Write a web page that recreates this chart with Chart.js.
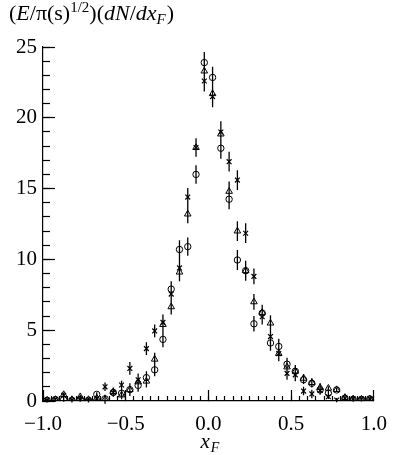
<!DOCTYPE html>
<html>
<head>
<meta charset="utf-8">
<script src="https://cdn.jsdelivr.net/npm/chart.js@4.4.0/dist/chart.umd.min.js"></script>
<style>
  html, body { margin: 0; padding: 0; background: #fff; }
  #wrap { width: 409px; height: 455px; }
</style>
</head>
<body>
<div id="wrap"><canvas id="xf"></canvas></div>
<script>
// bin centres in x_F
const xF = [-0.975, -0.925, -0.875, -0.825, -0.775, -0.725, -0.675, -0.625, -0.575, -0.525,
            -0.475, -0.425, -0.375, -0.325, -0.275, -0.225, -0.175, -0.125, -0.075, -0.025,
             0.025,  0.075,  0.125,  0.175,  0.225,  0.275,  0.325,  0.375,  0.425,  0.475,
             0.525,  0.575,  0.625,  0.675,  0.725,  0.775,  0.825,  0.875,  0.925,  0.975];

// open circles
const circ = [0.05, 0.1, 0.1, 0.05, 0.1, 0.05, 0.47, 0.15, 0.6, 0.55,
              0.8, 1.1, 1.65, 2.2, 4.35, 7.9, 10.7, 10.9, 16.0, 23.9,
              22.85, 17.85, 14.25, 9.96, 9.2, 5.45, 6.2, 4.1, 3.85, 2.6,
              2.1, 1.5, 1.25, 0.78, 0.55, 0.78, 0.2, 0.1, 0.12, 0.15];

// open triangles
const tri = [0.05, 0.1, 0.45, 0.1, 0.3, 0.1, 0.2, 0.1, 0.65, 0.42,
             0.8, 1.35, 1.4, 2.95, 5.4, 6.65, 9.1, 13.2, 17.9, 23.3,
             21.7, 18.85, 14.8, 12.0, 9.2, 7.0, 6.25, 5.5, 3.35, 2.4,
             2.1, 1.6, 1.3, 0.95, 0.9, 0.8, 0.25, 0.15, 0.12, 0.15];

// stars
const star = [0.05, 0.1, 0.4, 0.05, 0.15, 0.05, 0.15, 1.0, 0.6, 1.13,
              2.3, 1.5, 3.7, 4.95, 5.55, 7.55, 9.4, 14.4, 17.9, 22.6,
              21.5, 19.0, 16.9, 15.6, 11.85, 8.8, 5.95, 4.55, 3.35, 1.95,
              1.85, 0.7, 0.5, 0.75, 0.3, 0.07, 0.2, 0.15, 0.12, 0.15];

// statistical errors (same for the three samples)
const err = [0.15, 0.15, 0.15, 0.15, 0.15, 0.15, 0.15, 0.3, 0.3, 0.3,
             0.45, 0.45, 0.45, 0.45, 0.55, 0.55, 0.65, 0.65, 0.65, 0.75,
             0.75, 0.75, 0.7, 0.7, 0.7, 0.55, 0.55, 0.55, 0.55, 0.45,
             0.45, 0.3, 0.3, 0.3, 0.15, 0.15, 0.15, 0.15, 0.15, 0.15];

const yTicks = [0, 5, 10, 15, 20, 25];
const xTicks = [-1.0, -0.5, 0.0, 0.5, 1.0];

const SERIF = '"Liberation Serif", "DejaVu Serif", serif';

function pts(ys) {
    return xF.map((x, i) => ({ x: x, y: ys[i], e: err[i] }));
}

// vertical error bars
const errorBars = {
    id: 'errorBars',
    afterDatasetsDraw(chart) {
        const ctx = chart.ctx;
        const xs = chart.scales.x, ys = chart.scales.y;
        ctx.save();
        ctx.strokeStyle = '#000';
        ctx.lineWidth = 1.3;
        ctx.beginPath();
        chart.data.datasets.forEach(ds => {
            ds.data.forEach(p => {
                const px = xs.getPixelForValue(p.x);
                ctx.moveTo(px, ys.getPixelForValue(p.y - p.e));
                ctx.lineTo(px, ys.getPixelForValue(p.y + p.e));
            });
        });
        ctx.stroke();
        ctx.restore();
    }
};

// axis titles
const axisTitles = {
    id: 'axisTitles',
    afterDraw(chart) {
        const ctx = chart.ctx;
        const a = chart.chartArea;
        ctx.save();
        // (E/π(s)^{1/2})(dN/dx_F)
        const parts = [
            ['(', 'normal', 22, 0],
            ['E', 'italic', 22, 0],
            ['/π(s)', 'normal', 22, 0],
            ['1/2', 'normal', 15, -8],
            [')(', 'normal', 22, 0],
            ['dN', 'italic', 22, 0],
            ['/', 'normal', 22, 0],
            ['dx', 'italic', 22, 0],
            ['F', 'italic', 15, 4],
            [')', 'normal', 22, 0]
        ];
        ctx.fillStyle = '#000';
        ctx.textBaseline = 'alphabetic';
        ctx.textAlign = 'left';
        let x = 9;
        parts.forEach(([t, st, sz, dy]) => {
            ctx.font = st + ' ' + sz + 'px ' + SERIF;
            ctx.fillText(t, x, 20 + dy);
            x += ctx.measureText(t).width + (st === 'italic' && sz < 22 ? 1 : 0);
        });

        // x_F
        const cx = (a.left + a.right) / 2;
        ctx.font = 'italic 21px ' + SERIF;
        const wx = ctx.measureText('x').width;
        ctx.fillText('x', cx - 8, 448);
        ctx.font = 'italic 14px ' + SERIF;
        ctx.fillText('F', cx - 8 + wx + 1, 452);
        ctx.restore();
    }
};

// negative tickLength turns the tick marks inward
const majorGrid = (len) => ({
    display: true,
    drawOnChartArea: false,
    drawTicks: true,
    tickLength: -len,
    tickColor: '#000',
    tickWidth: 1.2
});

new Chart(document.getElementById('xf'), {
    type: 'scatter',
    data: {
        datasets: [
            {
                label: 'circles',
                data: pts(circ),
                pointStyle: 'circle',
                pointRadius: 3.2,
                borderColor: '#000',
                backgroundColor: 'rgba(0,0,0,0)',
                borderWidth: 1
            },
            {
                label: 'triangles',
                data: pts(tri),
                pointStyle: 'triangle',
                pointRadius: 3.8,
                borderColor: '#000',
                backgroundColor: 'rgba(0,0,0,0)',
                borderWidth: 1
            },
            {
                label: 'stars',
                data: pts(star),
                pointStyle: 'crossRot',
                pointRadius: 3.4,
                borderColor: '#000',
                backgroundColor: 'rgba(0,0,0,0)',
                borderWidth: 1.2
            }
        ]
    },
    options: {
        responsive: true,
        maintainAspectRatio: false,
        animation: false,
        layout: { padding: { left: 0, top: 47, right: 14, bottom: 0 } },
        plugins: {
            legend: { display: false },
            tooltip: { enabled: false }
        },
        scales: {
            x: {
                type: 'linear',
                position: 'bottom',
                weight: 1,
                min: -1,
                max: 1,
                afterFit(s) { s.height = 54; },
                afterBuildTicks(s) { s.ticks = xTicks.map(v => ({ value: v })); },
                grid: majorGrid(11),
                border: { display: true, color: '#000', width: 1.2 },
                ticks: {
                    color: '#000',
                    padding: 22,
                    maxRotation: 0,
                    font: { family: SERIF, size: 21 },
                    callback: v => (v < 0 ? '\u2212' : '') + Math.abs(v).toFixed(1)
                }
            },
            xMinor: {
                type: 'linear',
                position: 'bottom',
                weight: 0,
                min: -1,
                max: 1,
                afterFit(s) { s.height = 0; },
                grid: majorGrid(5),
                border: { display: false },
                ticks: { display: false, stepSize: 0.05, maxTicksLimit: 100, autoSkip: false }
            },
            y: {
                type: 'linear',
                position: 'left',
                weight: 1,
                min: 0,
                max: 25,
                afterFit(s) { s.width = 43; },
                afterBuildTicks(s) { s.ticks = yTicks.map(v => ({ value: v })); },
                grid: majorGrid(12),
                border: { display: true, color: '#000', width: 1.2 },
                ticks: {
                    color: '#000',
                    padding: 18,
                    font: { family: SERIF, size: 21 }
                }
            },
            yMinor: {
                type: 'linear',
                position: 'left',
                weight: 0,
                min: 0,
                max: 25,
                afterFit(s) { s.width = 0; },
                grid: majorGrid(7),
                border: { display: false },
                ticks: { display: false, stepSize: 1, maxTicksLimit: 100, autoSkip: false }
            }
        }
    },
    plugins: [errorBars, axisTitles]
});
</script>
</body>
</html>
